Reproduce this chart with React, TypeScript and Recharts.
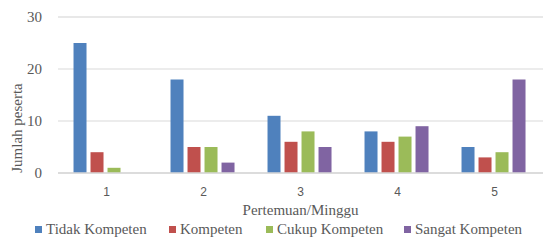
import { Bar, BarChart, CartesianGrid, Label, Legend, XAxis, YAxis } from "recharts";

const weeks = ["1", "2", "3", "4", "5"];
const tidakKompeten = [25, 18, 11, 8, 5];
const kompeten = [4, 5, 6, 6, 3];
const cukupKompeten = [1, 5, 8, 7, 4];
const sangatKompeten = [0, 2, 5, 9, 18];
const majorTicks = [0, 10, 20, 30];
const minorTicks = [0, 2, 4, 6, 8, 10, 12, 14, 16, 18, 20, 22, 24, 26, 28, 30];

const series = [
  { key: "tidak", name: "Tidak Kompeten", color: "#4F81BD" },
  { key: "kompeten", name: "Kompeten", color: "#C0504D" },
  { key: "cukup", name: "Cukup Kompeten", color: "#9BBB59" },
  { key: "sangat", name: "Sangat Kompeten", color: "#8064A2" },
];

// legend item left edges
const legendX = [35, 169, 266, 404];

const data = weeks.map((w, i) => ({
  week: w,
  tidak: tidakKompeten[i],
  kompeten: kompeten[i],
  cukup: cukupKompeten[i],
  sangat: sangatKompeten[i],
}));

const serif = '"Liberation Serif", "DejaVu Serif", serif';
const textColor = "#595959";

function LegendContent() {
  return (
    <svg width={543} height={25} style={{ display: "block" }}>
      {series.map((s, i) => (
        <g key={s.key}>
          <rect x={legendX[i]} y={9} width={7} height={7} fill={s.color} />
          <text
            x={legendX[i] + 11}
            y={17}
            fill={textColor}
            fontFamily={serif}
            fontSize={15}
          >
            {s.name}
          </text>
        </g>
      ))}
    </svg>
  );
}

export default function App() {
  return (
    <div style={{ position: "absolute", left: 0, top: 0, background: "#fff" }}>
      <BarChart
        width={543}
        height={242}
        data={data}
        margin={{ top: 17, right: 0, bottom: 0, left: 0 }}
        barCategoryGap="16%"
        barGap={4}
      >
        <CartesianGrid yAxisId="minor" vertical={false} stroke="#f0f0f0" />
        <CartesianGrid yAxisId="major" vertical={false} stroke="#d9d9d9" />
        <XAxis
          dataKey="week"
          height={44}
          tickLine={false}
          axisLine={{ stroke: "#d9d9d9", strokeWidth: 1.5 }}
          tickSize={6}
          tickMargin={8}
          tick={{ fill: textColor, fontSize: 12, fontFamily: '"Liberation Sans", Arial, sans-serif' }}
        >
          <Label
            content={({ viewBox }: any) => (
              <text
                x={viewBox.x + viewBox.width / 2}
                y={viewBox.y + 42}
                textAnchor="middle"
                fill={textColor}
                fontFamily={serif}
                fontSize={15}
              >
                Pertemuan/Minggu
              </text>
            )}
          />
        </XAxis>
        <YAxis yAxisId="minor" hide domain={[0, 30]} ticks={minorTicks} />
        <YAxis
          yAxisId="major"
          width={58}
          domain={[0, 30]}
          ticks={majorTicks}
          tickLine={false}
          axisLine={false}
          tickSize={6}
          tickMargin={10}
          tick={{ fill: textColor, fontSize: 15, fontFamily: serif }}
        >
          <Label
            content={() => (
              <text
                x={0}
                y={0}
                transform="translate(22,128) rotate(-90)"
                textAnchor="middle"
                fill={textColor}
                fontFamily={serif}
                fontSize={15}
              >
                Jumlah peserta
              </text>
            )}
          />
        </YAxis>
        <Legend verticalAlign="bottom" content={<LegendContent />} />
        {series.map((s) => (
          <Bar
            key={s.key}
            yAxisId="major"
            dataKey={s.key}
            name={s.name}
            fill={s.color}
            isAnimationActive={false}
          />
        ))}
      </BarChart>
    </div>
  );
}
